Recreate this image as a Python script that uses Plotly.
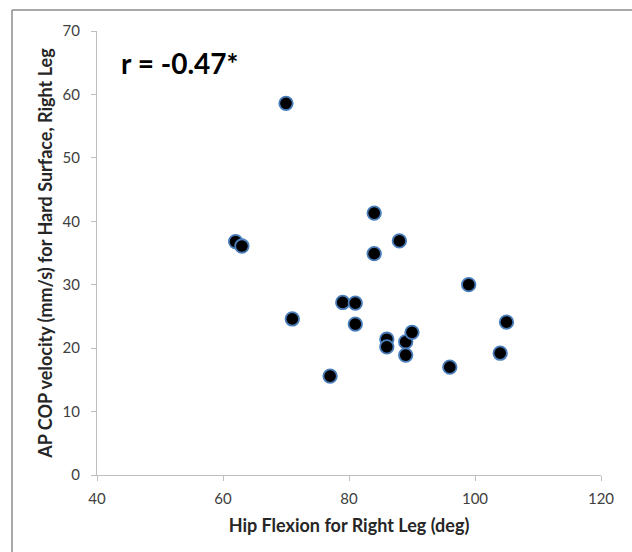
import plotly.graph_objects as go

hip_flexion = [62, 63, 70, 71, 77, 79, 81, 81, 84, 84, 86, 86, 88, 89, 89, 90, 96, 99, 104, 105]
ap_cop_velocity = [36.8, 36.1, 58.6, 24.6, 15.6, 27.2, 27.1, 23.8, 41.3, 34.9, 21.4, 20.2, 36.9, 21.0, 18.9, 22.5, 17.0, 30.0, 19.2, 24.1]
x_ticks = [40, 60, 80, 100, 120]
y_ticks = [0, 10, 20, 30, 40, 50, 60, 70]
annotation_text = "r = -0.47*"

FONT = "Lato, 'Open Sans', sans-serif"

fig = go.Figure()
fig.add_trace(go.Scatter(
    x=hip_flexion, y=ap_cop_velocity, mode="markers",
    marker=dict(size=13.5, color="black", line=dict(color="#4a7ebb", width=1.8)),
    showlegend=False, cliponaxis=False,
))

axis_common = dict(
    showgrid=False, zeroline=False, showline=True, linecolor="#bfbfbf", linewidth=1,
    ticks="outside", ticklen=5, tickcolor="#bfbfbf", tickwidth=1,
    tickfont=dict(family=FONT, size=15, color="#404040"),
)

fig.update_layout(
    width=632, height=552,
    margin=dict(l=97, r=31, t=31, b=77),
    paper_bgcolor="white", plot_bgcolor="white",
    xaxis=dict(range=[40, 120], tickvals=x_ticks, ticklabelstandoff=5, **axis_common,
               title=dict(text="<b>Hip Flexion for Right Leg (deg)</b>",
                          font=dict(family=FONT, size=18, color="#262626"), standoff=13)),
    yaxis=dict(range=[0, 70], tickvals=y_ticks, ticklabelstandoff=8, **axis_common,
               title=dict(text="<b>AP COP velocity (mm/s) for Hard Surface, Right Leg</b>",
                          font=dict(family=FONT, size=18, color="#262626"), standoff=5)),
    annotations=[dict(
        text="<b>" + annotation_text + "</b>", xref="paper", yref="paper",
        x=(119 - 97) / 504, y=(475 - 63) / 444, xanchor="left", yanchor="middle",
        showarrow=False, font=dict(family=FONT, size=28, color="black"),
    )],
    shapes=[
        dict(type="line", xref="paper", yref="paper", x0=(12 - 97) / 504, x1=1.2,
             y0=(475 - 10) / 444, y1=(475 - 10) / 444, line=dict(color="#8c8c8c", width=1.5)),
        dict(type="line", xref="paper", yref="paper", x0=(12 - 97) / 504, x1=(12 - 97) / 504,
             y0=-0.3, y1=(475 - 10) / 444, line=dict(color="#8c8c8c", width=1.5)),
    ],
)

fig.write_html("out.html")
